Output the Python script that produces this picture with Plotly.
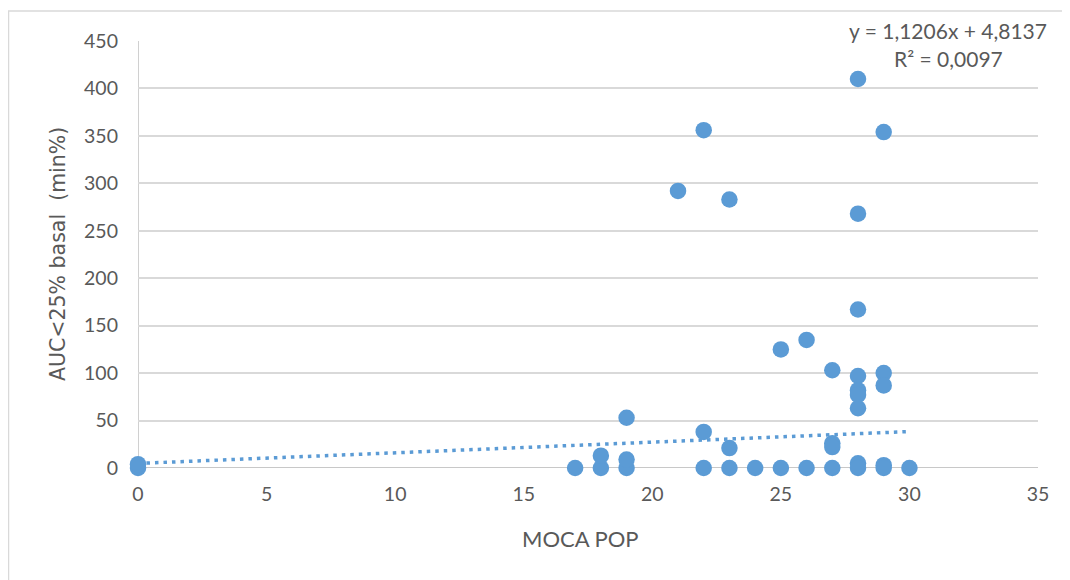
import plotly.graph_objects as go

# Data
moca_pop = [0, 0, 17, 18, 18, 19, 19, 19, 21, 22, 22, 22, 23, 23, 23, 24,
            25, 25, 26, 26, 27, 27, 27, 27,
            28, 28, 28, 28, 28, 28, 28, 28, 28,
            29, 29, 29, 29, 29, 30]
auc_basal = [0, 4, 0, 0, 13, 0, 9, 53, 292, 356, 38, 0, 283, 21, 0, 0,
             125, 0, 135, 0, 103, 26, 22, 0,
             410, 268, 167, 97, 82, 77, 63, 5, 0,
             354, 100, 87, 3, 0, 0]

trend_slope = 1.1206
trend_intercept = 4.8137
trend_x = [0, 30]
trend_y = [trend_intercept + trend_slope * x for x in trend_x]

x_ticks = [0, 5, 10, 15, 20, 25, 30, 35]
y_ticks = [0, 50, 100, 150, 200, 250, 300, 350, 400, 450]

blue = "#5b9bd5"
grey_text = "#595959"
font_family = "Lato, 'Open Sans', sans-serif"

# page offset (browser body margin)
OFF = 8
W, H = 1070 - OFF, 580 - OFF
L, R, T, B = 138 - OFF, 1038 - OFF, 41 - OFF, 468 - OFF


def px(xp):
    return (xp - OFF - L) / (R - L)


def py(yp):
    return (B - (yp - OFF)) / (B - T)


fig = go.Figure()
fig.add_trace(go.Scatter(
    x=trend_x, y=trend_y, mode="lines",
    line=dict(color=blue, width=3.5, dash="3.5px,5px"),
    hoverinfo="skip", showlegend=False, cliponaxis=False,
))
fig.add_trace(go.Scatter(
    x=moca_pop, y=auc_basal, mode="markers",
    marker=dict(color=blue, size=16.5, line=dict(width=0)),
    showlegend=False, cliponaxis=False,
))

fig.update_layout(
    width=W, height=H,
    margin=dict(l=L, r=W - R, t=T, b=H - B),
    paper_bgcolor="white", plot_bgcolor="white",
    font=dict(family=font_family, color=grey_text, size=19),
    xaxis=dict(
        range=[0, 35], tickvals=x_ticks, showgrid=False, zeroline=False,
        showline=False, ticks="", tickfont=dict(size=19.5, color=grey_text),
        ticklabelstandoff=12,
    ),
    yaxis=dict(
        range=[0, 450], tickvals=y_ticks, showgrid=True, gridcolor="#d9d9d9",
        gridwidth=1.5, zeroline=False, showline=False, ticks="",
        tickfont=dict(size=19.5, color=grey_text), ticklabelstandoff=19,
    ),
    shapes=[
        # chart area border
        dict(type="rect", xref="paper", yref="paper",
             x0=px(OFF + 0.5), x1=px(1085), y0=py(600), y1=py(OFF + 3),
             line=dict(color="#d9d9d9", width=1.5), fillcolor="rgba(0,0,0,0)", layer="below"),
        # vertical axis line at x=0
        dict(type="line", xref="x", yref="y", x0=0, x1=0, y0=0, y1=450,
             line=dict(color="#d0d0d0", width=2), layer="below"),
        # horizontal axis line at y=0
        dict(type="line", xref="x", yref="y", x0=0, x1=35, y0=0, y1=0,
             line=dict(color="#c8c8c8", width=2), layer="below"),
    ],
    annotations=[
        dict(text="y = 1,1206x + 4,8137", xref="paper", yref="paper",
             x=px(948), y=py(31), xanchor="center", yanchor="middle",
             showarrow=False, font=dict(size=21, color=grey_text)),
        dict(text="R² = 0,0097", xref="paper", yref="paper",
             x=px(948), y=py(58), xanchor="center", yanchor="middle",
             showarrow=False, font=dict(size=21, color=grey_text)),
        dict(text="MOCA POP", xref="paper", yref="paper",
             x=px(580), y=py(538), xanchor="center", yanchor="middle",
             showarrow=False, font=dict(size=22, color=grey_text)),
        dict(text="AUC<25% basal \u00a0(min%)", xref="paper", yref="paper",
             x=px(58), y=py(254), xanchor="center", yanchor="middle", textangle=-90,
             showarrow=False, font=dict(family="'DejaVu Sans', sans-serif", size=20.5, color=grey_text)),
    ],
)

fig.write_html("out.html")
